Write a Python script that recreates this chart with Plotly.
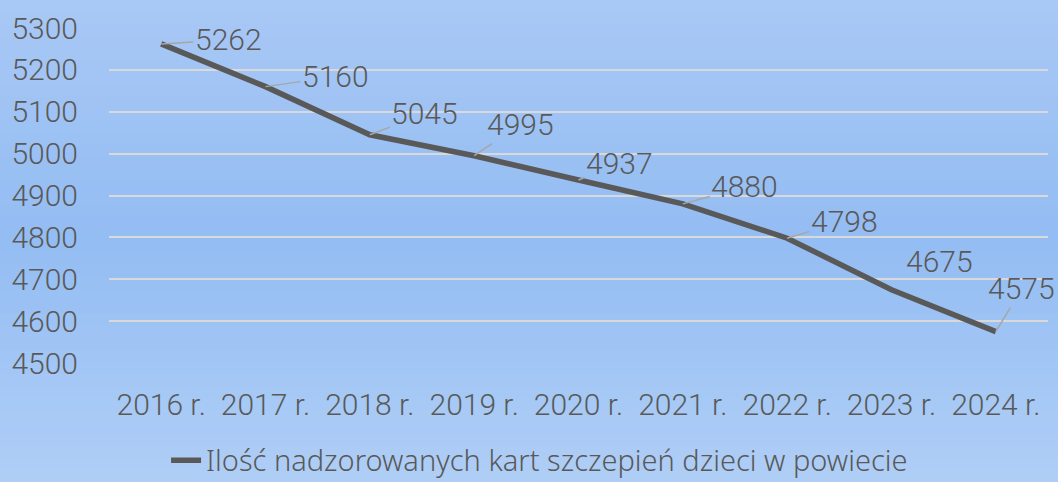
import plotly.graph_objects as go

years = ["2016 r.", "2017 r.", "2018 r.", "2019 r.", "2020 r.", "2021 r.", "2022 r.", "2023 r.", "2024 r."]
values = [5262, 5160, 5045, 4995, 4937, 4880, 4798, 4675, 4575]
series_name = "Ilość nadzorowanych kart szczepień dzieci w powiecie"
y_ticks = [4500, 4600, 4700, 4800, 4900, 5000, 5100, 5200, 5300]

# label offsets (pixels) and whether leader line is drawn
label_dx = [67, 70, 55, 46, 41, 62, 57, 48, 26]
label_dy = [-4, -10, -21, -31, -17, -17, -17, -28, -43]
leader = [True, True, True, True, True, True, True, False, True]

TEXT = "#595959"
FONT = "Roboto"
W = 300

fig = go.Figure()
fig.add_trace(go.Scatter(
    x=years, y=values, mode="lines", name=series_name,
    line=dict(color="#595959", width=5.5), showlegend=True,
))

for x, v, dx, dy, ld in zip(years, values, label_dx, label_dy, leader):
    if ld:
        fig.add_annotation(x=x, y=v, text=str(v), showarrow=True, ax=dx, ay=dy,
                           arrowhead=0, arrowwidth=1.5, arrowcolor="#a6a6a6", standoff=0,
                           font=dict(family=FONT, size=30, color=TEXT, weight=W))
    else:
        fig.add_annotation(x=x, y=v, text=str(v), showarrow=False, xshift=dx, yshift=-dy,
                           font=dict(family=FONT, size=30, color=TEXT, weight=W))

# background vertical gradient bands
top = (0xA9, 0xC9, 0xF6)
mid = (0x94, 0xBD, 0xF3)
bot = (0xB0, 0xCF, 0xF7)
H = 482
n = 40
shapes = []
plot_top, plot_bot = 28, 363
def to_paper(py):
    return (plot_bot - py) / (plot_bot - plot_top)
for i in range(n):
    y0p = H * i / n
    y1p = H * (i + 1) / n
    t = (y0p + y1p) / 2 / H
    if t < 0.5:
        f = t / 0.5
        c = tuple(int(top[k] + (mid[k] - top[k]) * f) for k in range(3))
    else:
        f = (t - 0.5) / 0.5
        c = tuple(int(mid[k] + (bot[k] - mid[k]) * f) for k in range(3))
    shapes.append(dict(type="rect", xref="paper", yref="paper", x0=-0.5, x1=1.5,
                       y0=to_paper(y1p + 1 if i < n - 1 else y1p + 20),
                       y1=to_paper(y0p - (20 if i == 0 else 0)), line=dict(width=0),
                       fillcolor="rgb(%d,%d,%d)" % c, layer="below"))

fig.update_layout(
    width=1058, height=482,
    margin=dict(l=109, r=10, t=28, b=119),
    paper_bgcolor="#9ec3f4", plot_bgcolor="rgba(0,0,0,0)",
    shapes=shapes,
    font=dict(family=FONT, color=TEXT),
    xaxis=dict(type="category", range=[-0.5, 8.5], showgrid=False, showline=False, zeroline=False,
               ticks="", tickfont=dict(family=FONT, size=30, color=TEXT, weight=W),
               ticklabelstandoff=21),
    yaxis=dict(range=[4500, 5300], tickvals=y_ticks, showgrid=True, gridcolor="#d9d9d9",
               gridwidth=1.5, zeroline=False, showline=False, ticks="",
               tickfont=dict(family=FONT, size=30, color=TEXT, weight=W), ticklabelstandoff=30),
    legend=dict(orientation="h", xref="container", yref="container", x=0.51, y=0.045,
                xanchor="center", yanchor="middle",
                font=dict(family="Noto Sans", size=29, color=TEXT, weight=W),
                bgcolor="rgba(0,0,0,0)"),
    showlegend=True,
)

fig.write_html("out.html", config={"displayModeBar": False},
               post_script="document.body.style.margin='0';")
